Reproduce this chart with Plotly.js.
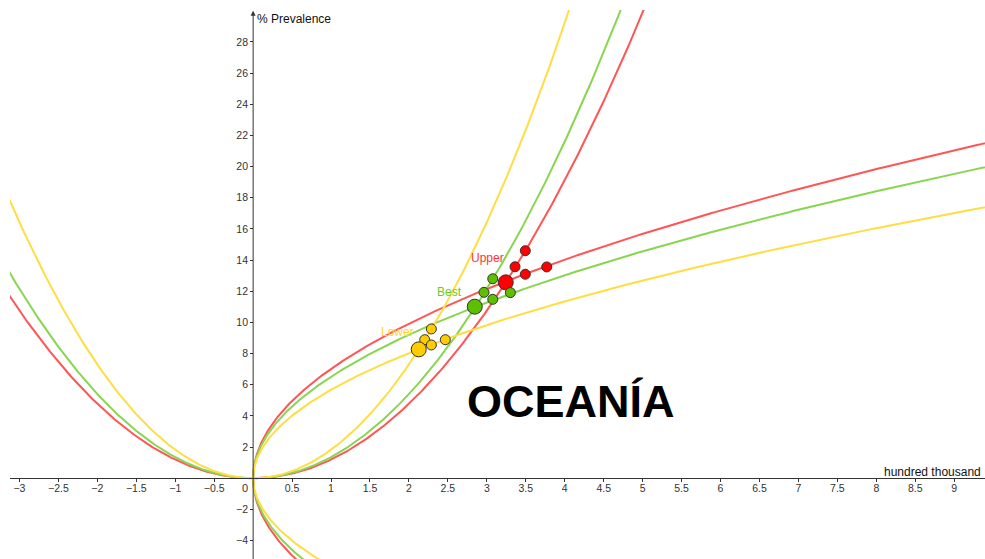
<!DOCTYPE html>
<html><head><meta charset="utf-8">
<script src="https://cdn.plot.ly/plotly-3.0.1.min.js"></script>
<style>html,body{margin:0;padding:0;background:#fff;overflow:hidden}#chart{width:985px;height:559px}</style>
</head><body><div id="chart"></div>
<script>
// ---- data ----
const seriesNames = ['Upper', 'Best', 'Lower'];
const verticalCoef = [1.195, 1.35, 1.825];     // y = a·x²
const horizontalCoef = [49.2, 42.4, 32.2];     // y² = c·x
const mainPointX = [3.243, 2.845, 2.126];
const mainPointY = [12.57, 11.01, 8.27];
const upperSmallX = [3.494, 3.362, 3.494, 3.769];
const upperSmallY = [14.60, 13.57, 13.09, 13.56];
const bestSmallX = [3.076, 2.964, 3.076, 3.302];
const bestSmallY = [12.80, 11.93, 11.48, 11.91];
const lowerSmallX = [2.288, 2.203, 2.288, 2.467];
const lowerSmallY = [9.58, 8.89, 8.55, 8.89];
const xTickVals = [-3, -2.5, -2, -1.5, -1, -0.5, 0.5, 1, 1.5, 2, 2.5, 3, 3.5, 4, 4.5, 5, 5.5, 6, 6.5, 7, 7.5, 8, 8.5, 9];
const yTickVals = [-4, -2, 2, 4, 6, 8, 10, 12, 14, 16, 18, 20, 22, 24, 26, 28];
const xAxisTitle = 'hundred thousand';
const yAxisTitle = '% Prevalence';
const regionName = 'OCEANÍA';

// ---- styles ----
const lineColors = ['#ff5555', '#88d650', '#ffdd44'];
const dotColors = ['#ff0000', '#5cbf00', '#ffcc00'];
const labelColors = ['#ff3333', '#66cc22', '#ffd633'];
const xRange = [-3.121, 9.395];
const yRange = [-5.186, 30.05];
const FONT = '"Liberation Sans", Arial, sans-serif';

const smallX = [upperSmallX, bestSmallX, lowerSmallX];
const smallY = [upperSmallY, bestSmallY, lowerSmallY];

const traces = [];
// curves
for (let i = 0; i < 3; i++) {
  const a = verticalCoef[i], c = horizontalCoef[i];
  // vertical parabola y = a x^2
  const vx = [], vy = [];
  const xm = Math.sqrt(32 / a);
  for (let k = 0; k <= 600; k++) {
    const x = -xm + (2 * xm) * k / 600;
    vx.push(x); vy.push(a * x * x);
  }
  traces.push({x: vx, y: vy, mode: 'lines', line: {color: lineColors[i], width: 2}, hoverinfo: 'skip'});
  // horizontal parabola y^2 = c x
  const hx = [], hy = [];
  const ym = Math.sqrt(c * 10);
  for (let k = 0; k <= 600; k++) {
    const y = -ym + (2 * ym) * k / 600;
    hx.push(y * y / c); hy.push(y);
  }
  traces.push({x: hx, y: hy, mode: 'lines', line: {color: lineColors[i], width: 2}, hoverinfo: 'skip'});
}
// points
for (let i = 0; i < 3; i++) {
  traces.push({x: smallX[i], y: smallY[i], mode: 'markers',
    marker: {color: dotColors[i], size: 10, line: {color: '#333', width: 1}}, hoverinfo: 'skip'});
  traces.push({x: [mainPointX[i]], y: [mainPointY[i]], mode: 'markers',
    marker: {color: dotColors[i], size: 15, line: {color: '#333', width: 1}}, hoverinfo: 'skip'});
}

const labelPos = [[3.009, 14.13], [2.521, 11.95], [1.854, 9.38]];
const annotations = seriesNames.map((n, i) => ({
  x: labelPos[i][0], y: labelPos[i][1], xref: 'x', yref: 'y', text: n, showarrow: false,
  font: {family: FONT, size: 12, color: labelColors[i]}
}));
annotations.push(
  {x: 0, y: 30.0, xref: 'x', yref: 'y', ax: 0, ay: -5.6, axref: 'x', ayref: 'y', text: '',
   showarrow: true, arrowhead: 2, arrowsize: 1, arrowwidth: 1, arrowcolor: '#333'},
  {x: 0, y: 29.5, xref: 'x', yref: 'y', text: yAxisTitle, showarrow: false, xanchor: 'left', xshift: 2,
   font: {family: FONT, size: 12, color: '#111'}},
  {x: 9.37, y: 0.42, xref: 'x', yref: 'y', text: xAxisTitle, showarrow: false, xanchor: 'right',
   font: {family: FONT, size: 12, color: '#111'}},
  {x: 0, y: 0, xref: 'x', yref: 'y', text: '0', showarrow: false, xanchor: 'right', yanchor: 'top',
   xshift: -3, yshift: -2, font: {family: FONT, size: 11, color: '#333'}},
  {x: 4.08, y: 4.95, xref: 'x', yref: 'y', text: '<b>' + regionName + '</b>', showarrow: false,
   font: {family: FONT, size: 45, color: '#000'}}
);

const layout = {
  width: 985, height: 559,
  margin: {l: 10, r: 0, t: 10, b: 0, pad: 0},
  paper_bgcolor: '#fff', plot_bgcolor: '#fff',
  showlegend: false, hovermode: false,
  xaxis: {range: xRange, anchor: 'free', position: (0 - yRange[0]) / (yRange[1] - yRange[0]),
    showgrid: false, zeroline: false, showline: true, linecolor: '#333', linewidth: 1,
    tickmode: 'array', tickvals: xTickVals, ticks: 'outside', ticklen: 3, tickcolor: '#333',
    ticklabelstandoff: -3,
    tickfont: {family: FONT, size: 10.5, color: '#333'}, fixedrange: true},
  yaxis: {range: yRange, anchor: 'free', position: (0 - xRange[0]) / (xRange[1] - xRange[0]),
    showgrid: false, zeroline: false, showline: false,
    tickmode: 'array', tickvals: yTickVals, ticks: 'outside', ticklen: 3, tickcolor: '#333',
    tickfont: {family: FONT, size: 10.5, color: '#333'}, fixedrange: true},
  annotations: annotations
};
Plotly.newPlot('chart', traces, layout, {displayModeBar: false, staticPlot: true});
</script></body></html>
